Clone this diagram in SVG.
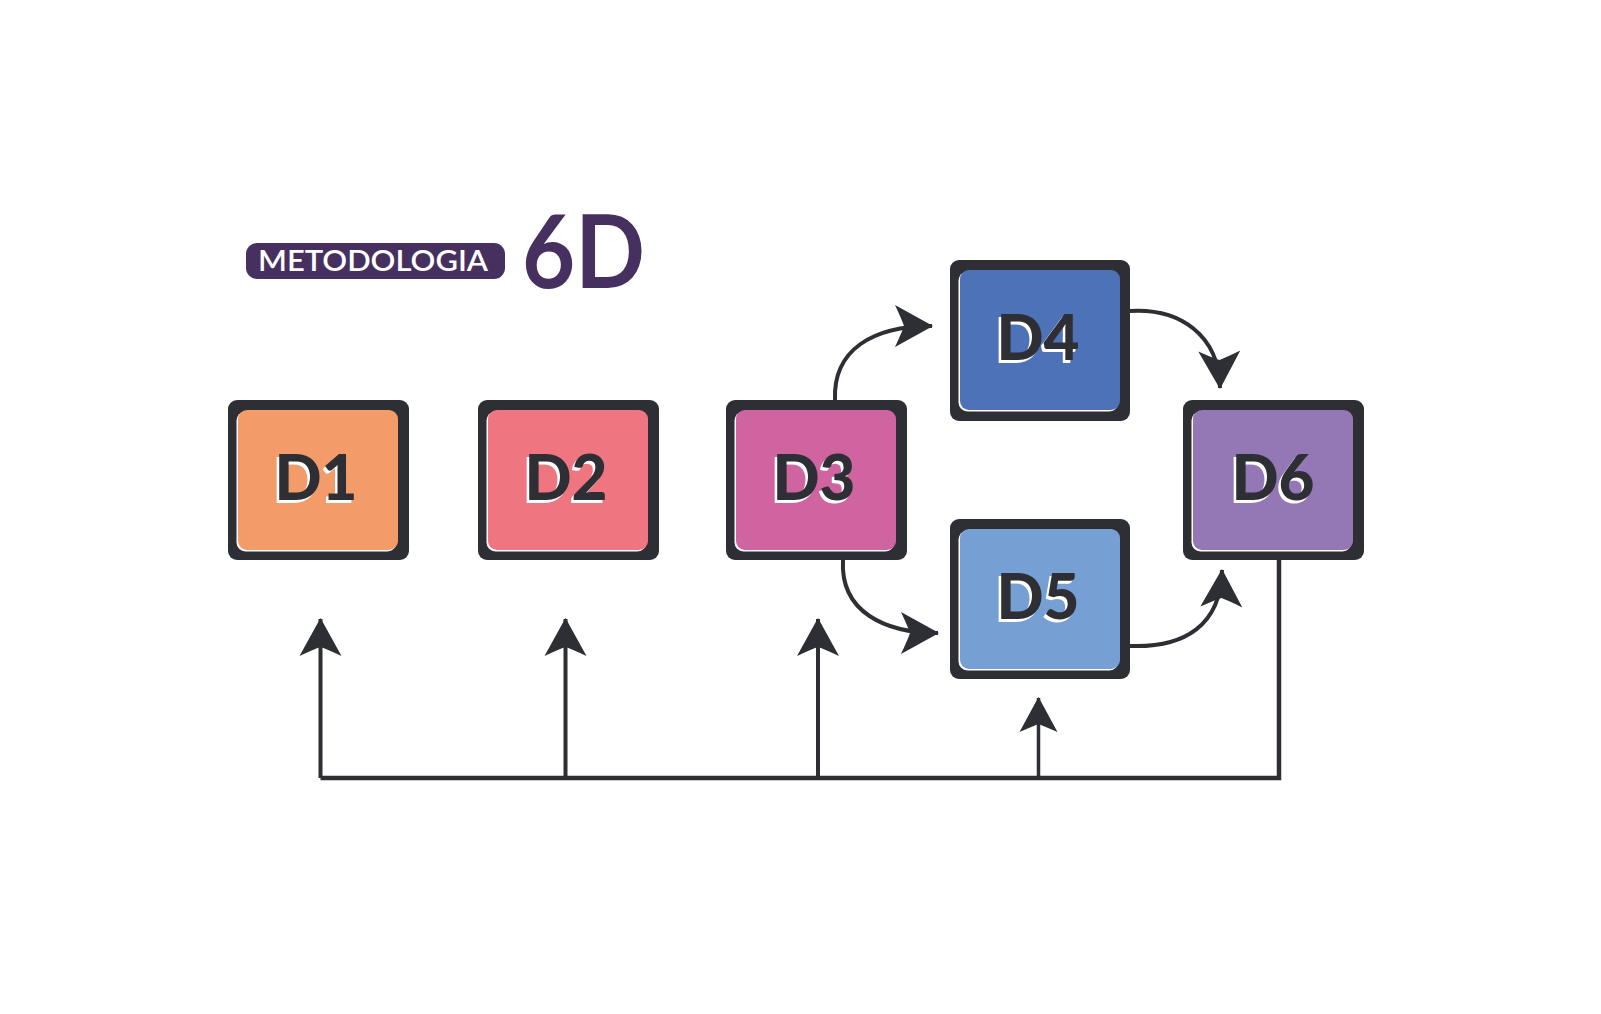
<svg xmlns="http://www.w3.org/2000/svg" width="1601" height="1014" viewBox="0 0 1601 1014">
  <style>
    .frame { fill: #2e2f35; }
    .hl { fill: #ffffff; }
    .lbl { font-family: Lato, "Liberation Sans", sans-serif; font-weight: 900; font-size: 62px; text-anchor: middle; }
    .lbl-s { fill: #ffffff; }
    .lbl-f { fill: #2e2f35; }
    .conn { fill: none; stroke: #2e2f35; stroke-width: 4; marker-end: url(#arrow); }
    .bus { fill: none; stroke: #2e2f35; stroke-width: 4.5; stroke-linejoin: miter; }
  </style>
  <defs>
    <marker id="arrow" markerUnits="userSpaceOnUse" markerWidth="50" markerHeight="50" viewBox="-40 -25 44 50" refX="0" refY="0" orient="auto">
      <path d="M 1 0 L -37 -21 Q -30 -6 -28 0 Q -30 6 -37 21 Z" fill="#2e2f35"/>
    </marker>
    <marker id="arrow-sm" markerUnits="userSpaceOnUse" markerWidth="50" markerHeight="50" viewBox="-40 -25 44 50" refX="0" refY="0" orient="auto">
      <path d="M 1 0 L -34 -19 Q -28 -5 -26 0 Q -28 5 -34 19 Z" fill="#2e2f35"/>
    </marker>
  </defs>
  <rect width="1601" height="1014" fill="#ffffff"/>

  <g id="title">
    <rect x="246" y="243" width="259" height="36" rx="11" fill="#46305f"/>
    <text x="373" y="271" font-family="Lato, 'Liberation Sans', sans-serif" font-size="29" font-weight="600" fill="#ffffff" text-anchor="middle" textLength="230" lengthAdjust="spacingAndGlyphs">METODOLOGIA</text>
    <text x="522" y="288" font-family="Lato, 'Liberation Sans', sans-serif" font-size="102" font-weight="700" fill="#46305f" textLength="123" lengthAdjust="spacingAndGlyphs">6D</text>
  </g>

  <g id="connectors">
    <path class="conn" d="M 835 400 C 833 350 872 326 932 326"/>
    <path class="conn" d="M 1130 311 C 1180 308 1219 335 1220 388"/>
    <path class="conn" d="M 843 560 C 840 612 885 633 938 633"/>
    <path class="conn" d="M 1130 646 C 1185 648 1221 625 1222 570"/>
    <path class="bus" d="M 1279 560 V 778 H 320.5"/>
    <path class="conn" d="M 320.5 778 V 619"/>
    <path class="conn" d="M 565.5 778 V 619"/>
    <path class="conn" d="M 818 778 V 619"/>
    <path fill="none" stroke="#2e2f35" stroke-width="3.5" marker-end="url(#arrow-sm)" d="M 1038.5 778 V 698"/>
  </g>

  <g id="D1">
    <rect class="frame" x="228" y="400" width="181" height="160" rx="9"/>
    <rect class="hl" x="236.5" y="411.5" width="160" height="140" rx="9"/>
    <rect x="238" y="410" width="160" height="140" rx="9" fill="#f49b6a"/>
    <text class="lbl lbl-s" x="313.5" y="502.5">D1</text>
    <text class="lbl lbl-f" x="316" y="500">D1</text>
  </g>
  <g id="D2">
    <rect class="frame" x="478" y="400" width="181" height="160" rx="9"/>
    <rect class="hl" x="486.5" y="411.5" width="160" height="140" rx="9"/>
    <rect x="488" y="410" width="160" height="140" rx="9" fill="#ef7680"/>
    <text class="lbl lbl-s" x="563.5" y="502.5">D2</text>
    <text class="lbl lbl-f" x="566" y="500">D2</text>
  </g>
  <g id="D3">
    <rect class="frame" x="726" y="400" width="181" height="160" rx="9"/>
    <rect class="hl" x="734.5" y="411.5" width="160" height="140" rx="9"/>
    <rect x="736" y="410" width="160" height="140" rx="9" fill="#cf64a0"/>
    <text class="lbl lbl-s" x="811.5" y="502.5">D3</text>
    <text class="lbl lbl-f" x="814" y="500">D3</text>
  </g>
  <g id="D4">
    <rect class="frame" x="950" y="260" width="180" height="161" rx="9"/>
    <rect class="hl" x="958.5" y="271.5" width="160" height="140" rx="9"/>
    <rect x="960" y="270" width="160" height="140" rx="9" fill="#4d72b8"/>
    <text class="lbl lbl-s" x="1035.5" y="362.5">D4</text>
    <text class="lbl lbl-f" x="1038" y="360">D4</text>
  </g>
  <g id="D5">
    <rect class="frame" x="950" y="519" width="180" height="160" rx="9"/>
    <rect class="hl" x="958.5" y="530.5" width="160" height="140" rx="9"/>
    <rect x="960" y="529" width="160" height="140" rx="9" fill="#76a0d4"/>
    <text class="lbl lbl-s" x="1035.5" y="621.5">D5</text>
    <text class="lbl lbl-f" x="1038" y="619">D5</text>
  </g>
  <g id="D6">
    <rect class="frame" x="1183" y="400" width="181" height="160" rx="9"/>
    <rect class="hl" x="1191.5" y="411.5" width="160" height="140" rx="9"/>
    <rect x="1193" y="410" width="160" height="140" rx="9" fill="#9477b5"/>
    <text class="lbl lbl-s" x="1270.5" y="502.5">D6</text>
    <text class="lbl lbl-f" x="1273" y="500">D6</text>
  </g>
</svg>
